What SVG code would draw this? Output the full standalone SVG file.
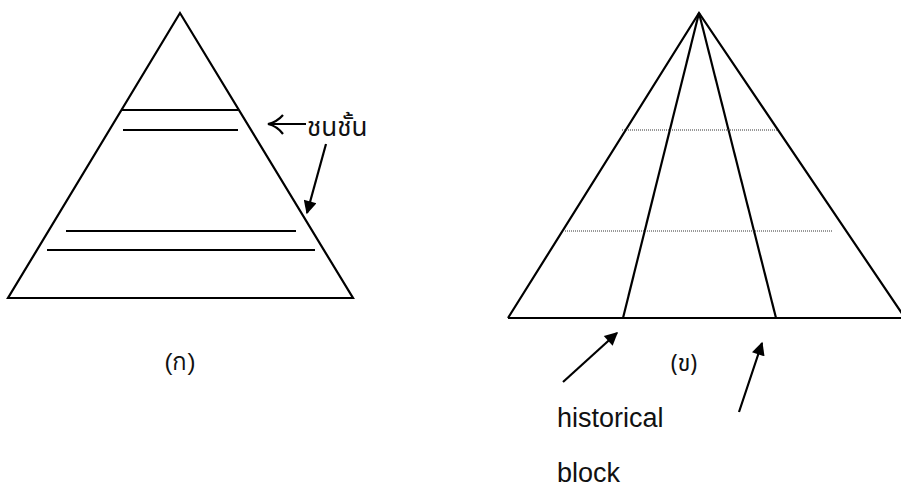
<svg xmlns="http://www.w3.org/2000/svg" width="901" height="488" viewBox="0 0 901 488">
<style>
.ln{stroke:#000;stroke-width:2.2;fill:none;stroke-linecap:butt}
.dot{stroke:#333;stroke-width:1;stroke-dasharray:1 1;fill:none}
.t{font-family:"Liberation Sans","Noto Sans",sans-serif;fill:#111}
.th{font-family:"Noto Sans Thai","Norasi","Loma","DejaVu Sans","Noto Sans",serif;fill:#111}
</style>
<defs>
<marker id="ah" viewBox="0 0 10 10" refX="9" refY="5" markerWidth="7" markerHeight="6" orient="auto" markerUnits="strokeWidth">
<path d="M0,0 L10,5 L0,10 z" fill="#000"/>
</marker>
</defs>
<rect width="901" height="488" fill="#fff"/>
<g id="pyramid-a">
<path class="ln" d="M180,13 L8,298 L353,298 Z" stroke-linejoin="miter"/>
<line class="ln" x1="122" y1="110" x2="238" y2="110"/>
<line class="ln" x1="123" y1="130" x2="238" y2="130"/>
<line class="ln" x1="66" y1="231" x2="296" y2="231"/>
<line class="ln" x1="47" y1="250" x2="315" y2="250"/>
<text class="t" x="180" y="370" font-size="24" text-anchor="middle">(ก)</text>
</g>
<g id="label-class">
<text class="th" x="307" y="136" font-size="26">ชนชั้น</text>
</g>
<g id="pyramid-b">
<path class="ln" d="M508,318 L699,13 L905,318"/>
<line class="ln" x1="508" y1="318" x2="901" y2="318" stroke-width="2.6"/>
<line class="ln" x1="699" y1="13" x2="623" y2="318"/>
<line class="ln" x1="699" y1="13" x2="776" y2="318"/>
<line class="dot" x1="622" y1="130" x2="777" y2="130"/>
<line class="dot" x1="565" y1="231" x2="833" y2="231"/>
<text class="th" x="684" y="371" font-size="23" text-anchor="middle">(ข)</text>
</g>
<g id="label-hb">
<text class="t" x="557" y="427" font-size="27">historical</text>
<text class="t" x="557" y="482" font-size="27">block</text>
</g>
<g id="connectors">
<line class="ln" x1="306" y1="124" x2="269" y2="124" stroke-width="1.6"/>
<path class="ln" d="M283,115 Q277,122 268,124 Q277,126 283,134" stroke-width="1.6"/>
<line class="ln" x1="326" y1="144" x2="307" y2="213" marker-end="url(#ah)"/>
<line class="ln" x1="563" y1="382" x2="617" y2="333" marker-end="url(#ah)"/>
<line class="ln" x1="739" y1="412" x2="762" y2="343" marker-end="url(#ah)"/>
</g>
</svg>
